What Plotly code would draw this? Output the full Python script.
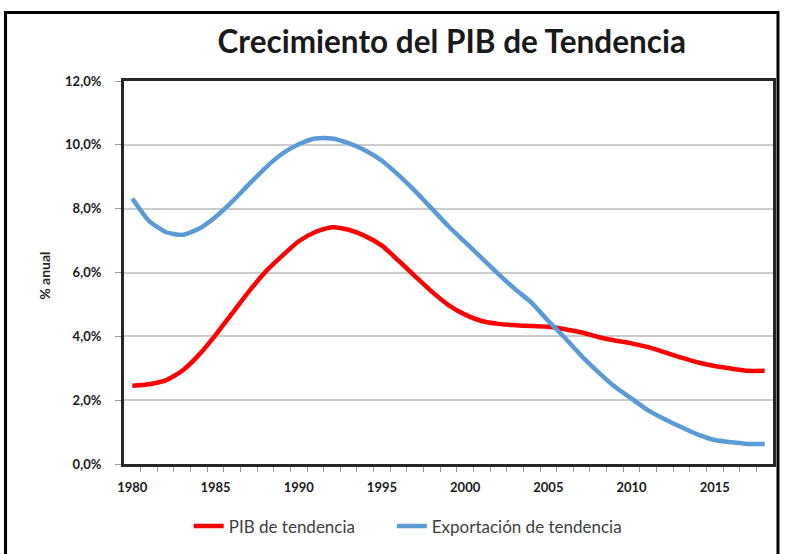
import plotly.graph_objects as go

years = list(range(1980, 2019))

pib_tendencia = [2.45, 2.50, 2.62, 2.92, 3.42, 4.04, 4.72, 5.40, 6.02, 6.52,
                 6.98, 7.27, 7.42, 7.34, 7.14, 6.84, 6.37, 5.88, 5.40, 4.98,
                 4.68, 4.48, 4.39, 4.35, 4.32, 4.30, 4.22, 4.12, 3.98, 3.87,
                 3.78, 3.66, 3.50, 3.33, 3.18, 3.07, 2.99, 2.92, 2.92]

exportacion_tendencia = [8.32, 7.62, 7.27, 7.18, 7.37, 7.74, 8.22, 8.76, 9.28, 9.72,
                         10.02, 10.20, 10.20, 10.05, 9.82, 9.50, 9.05, 8.55, 8.00, 7.45,
                         6.95, 6.45, 5.95, 5.48, 5.05, 4.48, 3.95, 3.38, 2.88, 2.42,
                         2.05, 1.68, 1.40, 1.15, 0.92, 0.75, 0.68, 0.63, 0.63]

tick_years = [1980, 1985, 1990, 1995, 2000, 2005, 2010, 2015]
y_ticks = [0, 2, 4, 6, 8, 10, 12]
y_labels = [f"{v:.1f}%".replace(".", ",") for v in y_ticks]

fig = go.Figure()
fig.add_trace(go.Scatter(x=years, y=pib_tendencia, name="PIB de tendencia", mode="lines",
                         line=dict(color="#FF0000", width=4.5, shape="spline", smoothing=0.6)))
fig.add_trace(go.Scatter(x=years, y=exportacion_tendencia, name="Exportación de tendencia", mode="lines",
                         legend="legend2",
                         line=dict(color="#5B9BD5", width=4.5, shape="spline", smoothing=0.6)))

legend_style = dict(orientation="h", xanchor="left", y=(467 - 530) / 386, yanchor="middle",
                    font=dict(size=17, color="#404040"), bgcolor="rgba(0,0,0,0)")

fig.update_layout(
    width=785, height=554,
    margin=dict(l=124, r=9, t=81, b=87),
    paper_bgcolor="white", plot_bgcolor="white",
    font=dict(family="Lato", color="#262626"),
    title=dict(text="<b>Crecimiento del PIB de Tendencia</b>", xref="paper", x=0.505, xanchor="center",
               y=1 - 42 / 554, yanchor="middle", font=dict(size=31.5, color="#1a1a1a")),
    showlegend=True,
    legend=dict(x=(189 - 124) / 652, **legend_style),
    legend2=dict(x=(393 - 124) / 652, **legend_style),
)

fig.update_xaxes(
    range=[1979.5, 2018.5], tickvals=tick_years, ticks="",
    tickfont=dict(size=13, color="#1a1a1a", weight="bold"),
    ticklabelstandoff=9,
    showgrid=False, zeroline=False,
    showline=True, linecolor="#262626", linewidth=3, mirror=True,
    minor=dict(tickvals=[y + 0.5 for y in years[:-1]], ticks="outside", ticklen=5,
               tickcolor="#999999", showgrid=False),
)
fig.update_yaxes(
    range=[0, 12], tickvals=y_ticks, ticktext=y_labels,
    ticks="outside", ticklen=6, tickcolor="#999999",
    tickfont=dict(size=13, color="#1a1a1a", weight="bold"),
    ticklabelstandoff=11,
    showgrid=True, gridcolor="#CCCCCC", gridwidth=1.5, zeroline=False,
    showline=True, linecolor="#262626", linewidth=3, mirror=True,
)

fig.add_annotation(text="<b>% anual</b>", textangle=-90, xref="paper", yref="paper",
                   x=(44 - 124) / 652, y=(467 - 277) / 386, xanchor="center", yanchor="middle",
                   showarrow=False, font=dict(size=14, color="#262626"))

# marco exterior
fig.add_shape(type="rect", xref="paper", yref="paper",
              x0=(5 - 124) / 652, x1=(781 - 124) / 652, y0=-0.3, y1=(467 - 12) / 386,
              line=dict(color="black", width=3), layer="above")

fig.write_html("out.html", config={"displayModeBar": False},
               post_script="document.body.style.margin='0';")
